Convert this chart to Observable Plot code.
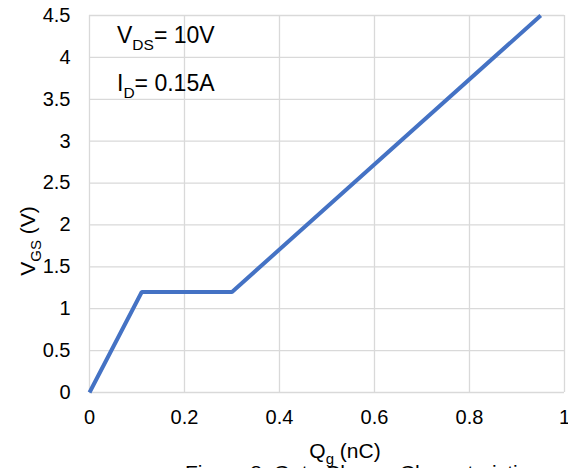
<!DOCTYPE html>
<html>
<head>
<meta charset="utf-8">
<script src="https://cdn.jsdelivr.net/npm/d3@7"></script>
<script src="https://cdn.jsdelivr.net/npm/@observablehq/plot@0.6"></script>
<style>
  html, body { margin: 0; padding: 0; background: #fff; overflow: hidden; }
  #chart svg { display: block; }
</style>
</head>
<body>
<div id="chart"></div>
<script>
// ---- Data ----
const qg  = [0, 0.11, 0.30, 0.95];      // gate charge, nC
const vgs = [0, 1.2, 1.2, 4.5];         // gate-source voltage, V

const xTicks = [0, 0.2, 0.4, 0.6, 0.8, 1];
const xTickLabels = ["0", "0.2", "0.4", "0.6", "0.8", "1"];
const yTicks = [0, 0.5, 1, 1.5, 2, 2.5, 3, 3.5, 4, 4.5];
const yTickLabels = ["0", "0.5", "1", "1.5", "2", "2.5", "3", "3.5", "4", "4.5"];

const annMain = ["V", "I"];
const annSub  = ["DS", "D"];
const annRest = ["= 10V", "= 0.15A"];
const annX    = [0.059, 0.059];
const annY    = [4.166, 3.593];

const xLabelMain = "Q", xLabelSub = "g", xLabelRest = " (nC)";
const yLabelMain = "V", yLabelSub = "GS", yLabelRest = " (V)";
const caption = "Figure 8. Gate Charge Characteristics";

// ---- Build ----
const data = qg.map((q, i) => ({q, v: vgs[i]}));
const font = "'Liberation Sans', Arial, Helvetica, sans-serif";
const gridStyle = {stroke: "#d9d9d9", strokeOpacity: 1, strokeWidth: 1.3};

const chart = Plot.plot({
  width: 568,
  height: 468,
  marginLeft: 89,
  marginRight: 4,
  marginTop: 15,
  marginBottom: 76,
  style: {fontFamily: font, fontSize: "20px", color: "#000", background: "#fff"},
  x: {domain: [0, 1]},
  y: {domain: [0, 4.5]},
  marks: [
    Plot.gridX(xTicks, gridStyle),
    Plot.gridY(yTicks, gridStyle),
    Plot.axisX(xTicks, {tickSize: 0, tickPadding: 17, label: null, fontSize: 20,
      tickFormat: d => xTickLabels[xTicks.indexOf(d)]}),
    Plot.axisY(yTicks, {tickSize: 0, tickPadding: 19, label: null, fontSize: 20,
      tickFormat: d => yTickLabels[yTicks.indexOf(d)]}),
    Plot.line(data, {x: "q", y: "v", stroke: "#4472C4", strokeWidth: 4,
      strokeLinejoin: "miter", strokeLinecap: "butt"})
  ]
});
document.getElementById("chart").appendChild(chart);

const sx = chart.scale("x"), sy = chart.scale("y");
const svg = d3.select(chart);

// annotations with subscripts
annMain.forEach((m, i) => {
  const t = svg.append("text")
    .attr("x", sx.apply(annX[i]))
    .attr("y", sy.apply(annY[i]))
    .attr("text-anchor", "start")
    .attr("font-family", font)
    .attr("font-size", 23)
    .attr("fill", "#000");
  t.append("tspan").text(m);
  t.append("tspan").attr("font-size", 15.5).attr("dy", 7).text(annSub[i]);
  t.append("tspan").attr("dy", -7).text(annRest[i]);
});

// x axis label
{
  const t = svg.append("text")
    .attr("x", 345).attr("y", 458)
    .attr("text-anchor", "middle")
    .attr("font-family", font).attr("font-size", 21).attr("fill", "#000");
  t.append("tspan").text(xLabelMain);
  t.append("tspan").attr("font-size", 15).attr("dy", 6).text(xLabelSub);
  t.append("tspan").attr("dy", -6).text(xLabelRest);
}
// y axis label
{
  const t = svg.append("text")
    .attr("transform", "translate(35,241) rotate(-90)")
    .attr("text-anchor", "middle")
    .attr("font-family", font).attr("font-size", 21).attr("fill", "#000");
  t.append("tspan").text(yLabelMain);
  t.append("tspan").attr("font-size", 15).attr("dy", 6).text(yLabelSub);
  t.append("tspan").attr("dy", -6).text(yLabelRest);
}
// caption (partly below the visible area, as in the reference)
svg.append("text")
  .attr("x", 185).attr("y", 480)
  .attr("text-anchor", "start")
  .attr("font-family", font).attr("font-size", 21).attr("fill", "#000")
  .text(caption);
</script>
</body>
</html>
